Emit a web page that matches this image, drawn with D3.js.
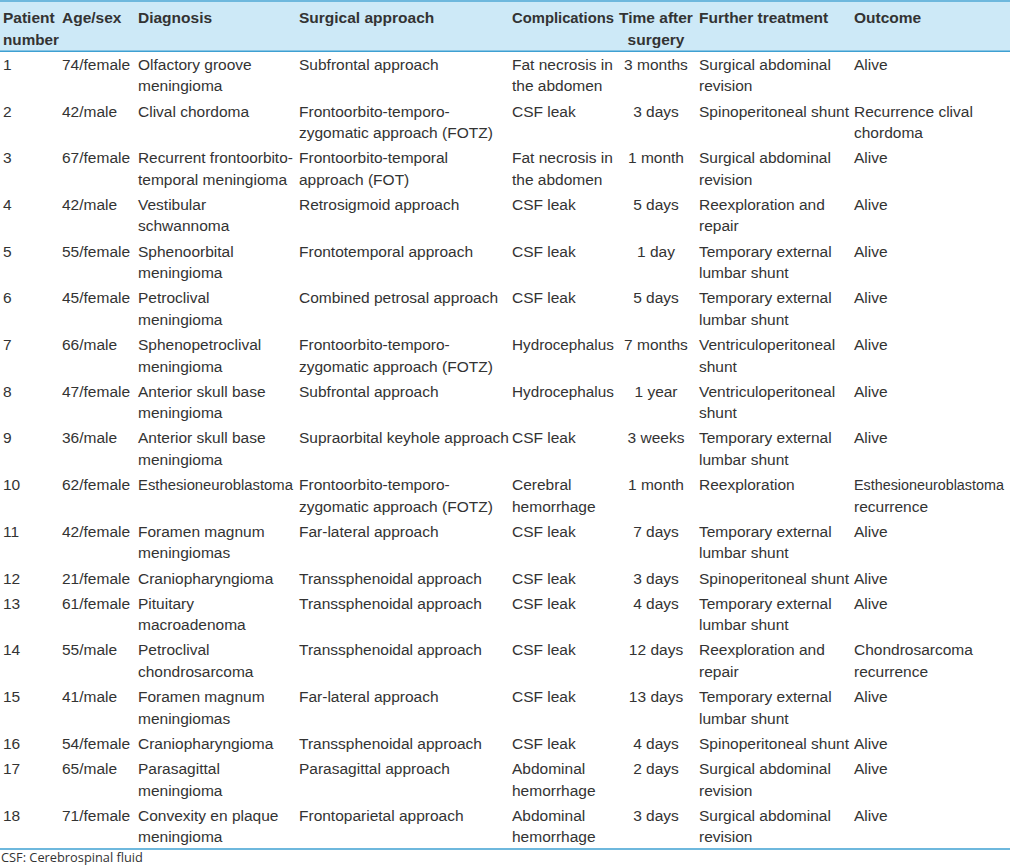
<!DOCTYPE html>
<html>
<head>
<meta charset="utf-8">
<script src="https://cdn.jsdelivr.net/npm/d3@7/dist/d3.min.js"></script>
<style>
  body { margin: 0; background: #fff; }
  svg text { font-family: "Liberation Sans Narrow", "Arial Narrow", "Liberation Sans", sans-serif; }
</style>
</head>
<body>
<svg id="chart" width="1010" height="867"></svg>
<script>
// table content, "\n" marks the line breaks seen in the reference
const headers = ["Patient\nnumber", "Age/sex", "Diagnosis", "Surgical approach", "Complications", "Time after\nsurgery", "Further treatment", "Outcome"];

const patientNumbers = ["1","2","3","4","5","6","7","8","9","10","11","12","13","14","15","16","17","18"];

const ageSex = ["74/female","42/male","67/female","42/male","55/female","45/female","66/male","47/female","36/male",
  "62/female","42/female","21/female","61/female","55/male","41/male","54/female","65/male","71/female"];

const diagnosis = ["Olfactory groove\nmeningioma", "Clival chordoma", "Recurrent frontoorbito-\ntemporal meningioma",
  "Vestibular\nschwannoma", "Sphenoorbital\nmeningioma", "Petroclival\nmeningioma", "Sphenopetroclival\nmeningioma",
  "Anterior skull base\nmeningioma", "Anterior skull base\nmeningioma", "Esthesioneuroblastoma",
  "Foramen magnum\nmeningiomas", "Craniopharyngioma", "Pituitary\nmacroadenoma", "Petroclival\nchondrosarcoma",
  "Foramen magnum\nmeningiomas", "Craniopharyngioma", "Parasagittal\nmeningioma", "Convexity en plaque\nmeningioma"];

const approach = ["Subfrontal approach", "Frontoorbito-temporo-\nzygomatic approach (FOTZ)", "Frontoorbito-temporal\napproach (FOT)",
  "Retrosigmoid approach", "Frontotemporal approach", "Combined petrosal approach", "Frontoorbito-temporo-\nzygomatic approach (FOTZ)",
  "Subfrontal approach", "Supraorbital keyhole approach", "Frontoorbito-temporo-\nzygomatic approach (FOTZ)",
  "Far-lateral approach", "Transsphenoidal approach", "Transsphenoidal approach", "Transsphenoidal approach",
  "Far-lateral approach", "Transsphenoidal approach", "Parasagittal approach", "Frontoparietal approach"];

const complications = ["Fat necrosis in\nthe abdomen", "CSF leak", "Fat necrosis in\nthe abdomen", "CSF leak", "CSF leak", "CSF leak",
  "Hydrocephalus", "Hydrocephalus", "CSF leak", "Cerebral\nhemorrhage", "CSF leak", "CSF leak", "CSF leak", "CSF leak",
  "CSF leak", "CSF leak", "Abdominal\nhemorrhage", "Abdominal\nhemorrhage"];

const timeAfter = ["3 months","3 days","1 month","5 days","1 day","5 days","7 months","1 year","3 weeks",
  "1 month","7 days","3 days","4 days","12 days","13 days","4 days","2 days","3 days"];

const treatment = ["Surgical abdominal\nrevision", "Spinoperitoneal shunt", "Surgical abdominal\nrevision", "Reexploration and\nrepair",
  "Temporary external\nlumbar shunt", "Temporary external\nlumbar shunt", "Ventriculoperitoneal\nshunt", "Ventriculoperitoneal\nshunt",
  "Temporary external\nlumbar shunt", "Reexploration", "Temporary external\nlumbar shunt", "Spinoperitoneal shunt",
  "Temporary external\nlumbar shunt", "Reexploration and\nrepair", "Temporary external\nlumbar shunt", "Spinoperitoneal shunt",
  "Surgical abdominal\nrevision", "Surgical abdominal\nrevision"];

const outcome = ["Alive", "Recurrence clival\nchordoma", "Alive", "Alive", "Alive", "Alive", "Alive", "Alive", "Alive",
  "Esthesioneuroblastoma\nrecurrence", "Alive", "Alive", "Alive", "Chondrosarcoma\nrecurrence", "Alive", "Alive", "Alive", "Alive"];

const footnote = "CSF: Cerebrospinal fluid";

const columns = [patientNumbers, ageSex, diagnosis, approach, complications, timeAfter, treatment, outcome];

// layout
const width = 1010;
const colX = [3, 62, 138, 299, 512, 656, 699, 854];
const colAnchor = ["start","start","start","start","start","middle","start","start"];
const colMaxW = [56, 73, 155, 210, 102, 80, 152, 150]; // shrink text that would run into the next column
const lineH = 21.5;
const rowPad = 3.7;
const headerTop = 2, headerBottom = 51.3;
const baseOffset = 18.5;
const fontPx = 15.5;
const textColor = "#333";
const lineColor = "#3ea0d2";
const headerFill = "#cde9f7";

const rows = patientNumbers.map((p, i) => columns.map(c => c[i].split("\n")));
const rowLines = rows.map(r => d3.max(r, c => c.length));
const rowTops = [];
let acc = headerBottom;
rowLines.forEach(n => { rowTops.push(acc); acc += n * lineH + rowPad; });
const tableBottom = acc;

const fit = function(j) {
  const len = this.getComputedTextLength();
  if (len > colMaxW[j]) {
    d3.select(this).style("font-size", (fontPx * colMaxW[j] / len) + "px");
  }
};

const svg = d3.select("#chart");

svg.append("rect")
  .attr("x", 0).attr("y", headerTop)
  .attr("width", width).attr("height", headerBottom - headerTop)
  .style("fill", headerFill);

[1, headerBottom, tableBottom].forEach(y => {
  svg.append("line").attr("x1", 0).attr("x2", width).attr("y1", y).attr("y2", y)
    .style("stroke", lineColor).style("stroke-width", 1.5);
});

// header
const head = svg.append("g").attr("class", "header");
headers.forEach((h, j) => {
  const t = head.append("text")
    .attr("x", colX[j]).attr("y", 23)
    .attr("text-anchor", colAnchor[j])
    .style("font-size", fontPx + "px").style("font-weight", "bold").style("fill", textColor);
  h.split("\n").forEach((ln, k) => {
    t.append("tspan").attr("x", colX[j]).attr("dy", k === 0 ? 0 : lineH).text(ln)
      .each(function() { fit.call(this, j); });
  });
});

// body
const body = svg.append("g").attr("class", "body");
const rowG = body.selectAll("g.row")
  .data(rows)
  .enter()
  .append("g")
  .attr("class", "row")
  .attr("transform", (d, i) => "translate(0," + rowTops[i] + ")");

rowG.selectAll("text")
  .data(d => d)
  .enter()
  .append("text")
  .attr("x", (d, j) => colX[j])
  .attr("y", baseOffset)
  .attr("text-anchor", (d, j) => colAnchor[j])
  .style("font-size", fontPx + "px")
  .style("fill", textColor)
  .each(function(lines, j) {
    lines.forEach((ln, k) => {
      d3.select(this).append("tspan")
        .attr("x", colX[j]).attr("dy", k === 0 ? 0 : lineH).text(ln)
        .each(function() { fit.call(this, j); });
    });
  });

svg.append("text")
  .attr("x", 1).attr("y", 862)
  .style("font-family", "'Open Sans', 'DejaVu Sans', sans-serif")
  .style("font-size", "12.8px")
  .style("fill", textColor)
  .text(footnote);
</script>
</body>
</html>
